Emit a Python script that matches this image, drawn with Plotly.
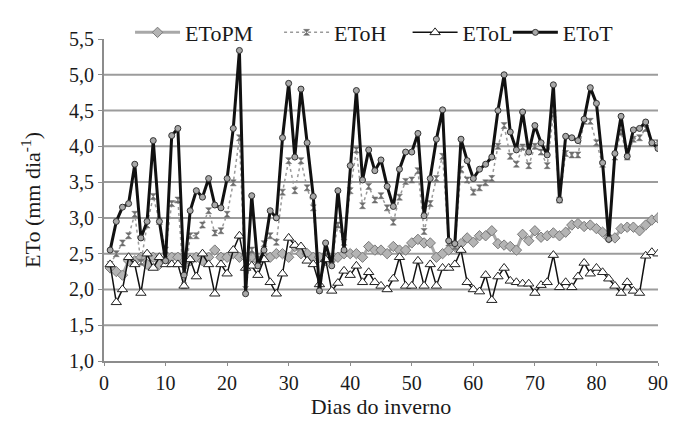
import plotly.graph_objects as go

# Winter days
days = list(range(1, 91))

# Reference evapotranspiration, Penman-Monteith (mm/day)
eto_pm = [2.30, 2.25, 2.20, 2.40, 2.40, 2.45, 2.35, 2.45, 2.35, 2.40,
          2.45, 2.45, 2.35, 2.40, 2.45, 2.40, 2.45, 2.55, 2.45, 2.45,
          2.50, 2.45, 2.45, 2.45, 2.40, 2.45, 2.45, 2.50, 2.50, 2.45,
          2.60, 2.50, 2.50, 2.45, 2.45, 2.40, 2.42, 2.45, 2.50, 2.50,
          2.50, 2.45, 2.60, 2.55, 2.55, 2.50, 2.60, 2.55, 2.55, 2.65,
          2.70, 2.65, 2.65, 2.45, 2.50, 2.55, 2.60, 2.64, 2.72, 2.66,
          2.75, 2.75, 2.82, 2.64, 2.62, 2.60, 2.55, 2.77, 2.68, 2.82,
          2.73, 2.75, 2.79, 2.75, 2.80, 2.90, 2.92, 2.88, 2.90, 2.85,
          2.80, 2.72, 2.72, 2.85, 2.87, 2.87, 2.82, 2.90, 2.97, 3.00]

# Hargreaves
eto_h = [2.35, 2.50, 2.65, 2.75, 3.05, 2.38, 2.90, 3.30, 2.95, 2.55,
         3.20, 3.25, 2.05, 2.75, 2.75, 2.90, 3.10, 2.79, 2.82, 3.05,
         3.49, 4.12, 2.00, 2.55, 2.42, 2.64, 2.75, 2.66, 3.36, 3.80,
         3.38, 3.80, 3.42, 3.14, 2.00, 2.46, 2.42, 2.90, 2.66, 3.38,
         3.95, 3.17, 3.44, 3.25, 3.31, 3.14, 2.94, 3.29, 3.51, 3.53,
         3.66, 2.81, 3.20, 3.55, 3.86, 2.65, 2.60, 3.68, 3.53, 3.36,
         3.42, 3.49, 3.55, 4.00, 4.29, 3.86, 3.75, 3.99, 3.73, 4.00,
         3.92, 3.73, 4.45, 3.25, 3.90, 3.88, 3.88, 4.35, 4.35, 4.05,
         3.75, 2.72, 3.85, 4.20, 3.85, 4.10, 4.12, 4.25, 4.05, 4.05]

# Linacre
eto_l = [2.35, 1.82, 2.00, 2.45, 2.35, 1.95, 2.50, 2.30, 2.45, 2.35,
         2.35, 2.35, 2.05, 2.42, 2.18, 2.50, 2.35, 1.94, 2.35, 2.22,
         2.55, 2.75, 2.30, 2.33, 2.20, 2.42, 2.10, 1.94, 2.22, 2.72,
         2.62, 2.60, 2.40, 2.35, 2.07, 2.42, 1.98, 2.09, 2.26, 2.20,
         2.33, 2.10, 2.24, 2.10, 2.05, 2.00, 2.15, 2.45, 2.05, 2.05,
         2.40, 2.05, 2.35, 2.05, 2.30, 2.30, 2.35, 2.55, 2.10, 2.00,
         1.97, 2.20, 1.85, 2.18, 2.30, 2.12, 2.10, 2.08, 2.08, 1.95,
         2.06, 2.10, 2.48, 2.03, 2.10, 2.03, 2.18, 2.37, 2.22, 2.30,
         2.24, 2.15, 2.05, 1.95, 2.10, 1.98, 1.95, 2.47, 2.52, 2.50]

# Thornthwaite
eto_t = [2.55, 2.95, 3.15, 3.20, 3.75, 2.72, 2.95, 4.08, 2.95, 2.40,
         4.15, 4.25, 2.20, 3.10, 3.38, 3.29, 3.55, 3.18, 3.14, 3.55,
         4.25, 5.34, 1.94, 3.31, 2.33, 2.55, 3.10, 3.00, 4.12, 4.88,
         3.85, 4.80, 4.05, 3.30, 1.98, 2.65, 2.33, 3.38, 2.55, 3.73,
         4.78, 3.53, 3.95, 3.66, 3.81, 3.44, 3.16, 3.68, 3.92, 3.92,
         4.18, 3.03, 3.55, 4.10, 4.51, 2.68, 2.64, 4.10, 3.80, 3.55,
         3.68, 3.75, 3.85, 4.50, 5.00, 4.20, 3.95, 4.48, 3.92, 4.29,
         4.05, 3.88, 4.86, 3.25, 4.14, 4.12, 4.08, 4.38, 4.82, 4.60,
         3.77, 2.70, 3.90, 4.42, 3.86, 4.23, 4.25, 4.34, 4.05, 3.97]

y_ticks = [1.0, 1.5, 2.0, 2.5, 3.0, 3.5, 4.0, 4.5, 5.0, 5.5]
x_ticks = [0, 10, 20, 30, 40, 50, 60, 70, 80, 90]

FONT = "Liberation Serif"
INK = "#1a1a1a"
GRID = "#9c9c9c"
AXIS = "#8c8c8c"

fig = go.Figure()

fig.add_trace(go.Scatter(
    x=days, y=eto_pm, name="EToPM", mode="lines+markers",
    line=dict(color="#a8a8a8", width=3),
    marker=dict(symbol="diamond", size=8, color="#b4b4b4",
                line=dict(color="#7a7a7a", width=1)),
    legend="legend"))

fig.add_trace(go.Scatter(
    x=days, y=eto_h, name="EToH", mode="lines+markers",
    line=dict(color="#9a9a9a", width=1.5, dash="dot"),
    marker=dict(symbol="hourglass", size=6, color="#6e6e6e",
                line=dict(color="#6e6e6e", width=0.5)),
    legend="legend2"))

fig.add_trace(go.Scatter(
    x=days, y=eto_l, name="EToL", mode="lines+markers",
    line=dict(color="#111111", width=1.5),
    marker=dict(symbol="triangle-up", size=9, color="white",
                line=dict(color="#222222", width=1)),
    legend="legend3"))

fig.add_trace(go.Scatter(
    x=days, y=eto_t, name="EToT", mode="lines+markers",
    line=dict(color="#111111", width=3),
    marker=dict(symbol="circle", size=6, color="#a8a8a8",
                line=dict(color="#333333", width=1)),
    legend="legend4"))

# Horizontal grid at the inner ticks (the top edge carries no line)
for v in y_ticks[1:-1]:
    fig.add_hline(y=v, line=dict(color=GRID, width=2), layer="below")

legend_style = dict(orientation="h", yanchor="middle", y=1.02, xanchor="left",
                    font=dict(family=FONT, size=22, color=INK),
                    bgcolor="rgba(0,0,0,0)", itemwidth=45)

fig.update_layout(
    width=683, height=423,
    margin=dict(l=104, r=25, t=24, b=57),
    paper_bgcolor="white", plot_bgcolor="white",
    separators=",.",
    showlegend=True,
    font=dict(family=FONT, color=INK, size=20),
    legend=dict(legend_style, x=0.047),
    legend2=dict(legend_style, x=0.316),
    legend3=dict(legend_style, x=0.548),
    legend4=dict(legend_style, x=0.729),
    xaxis=dict(
        range=[0, 90], tickvals=x_ticks, ticks="outside", ticklen=3,
        tickcolor=AXIS, showline=True, linecolor=AXIS, linewidth=2,
        showgrid=False, zeroline=False,
        tickfont=dict(family=FONT, size=20, color=INK),
        title=dict(text="Dias do inverno", standoff=2,
                   font=dict(family=FONT, size=22, color=INK))),
    yaxis=dict(
        range=[1, 5.5], tickvals=y_ticks, tickformat=".1f", ticks="outside",
        ticklen=4, tickcolor=AXIS, showline=True, linecolor=AXIS,
        linewidth=2, showgrid=False, zeroline=False,
        tickfont=dict(family=FONT, size=20, color=INK),
        title=dict(text="ETo (mm dia<sup>-1</sup>)", standoff=22,
                   font=dict(family=FONT, size=22, color=INK))),
)

fig.write_html("out.html")
